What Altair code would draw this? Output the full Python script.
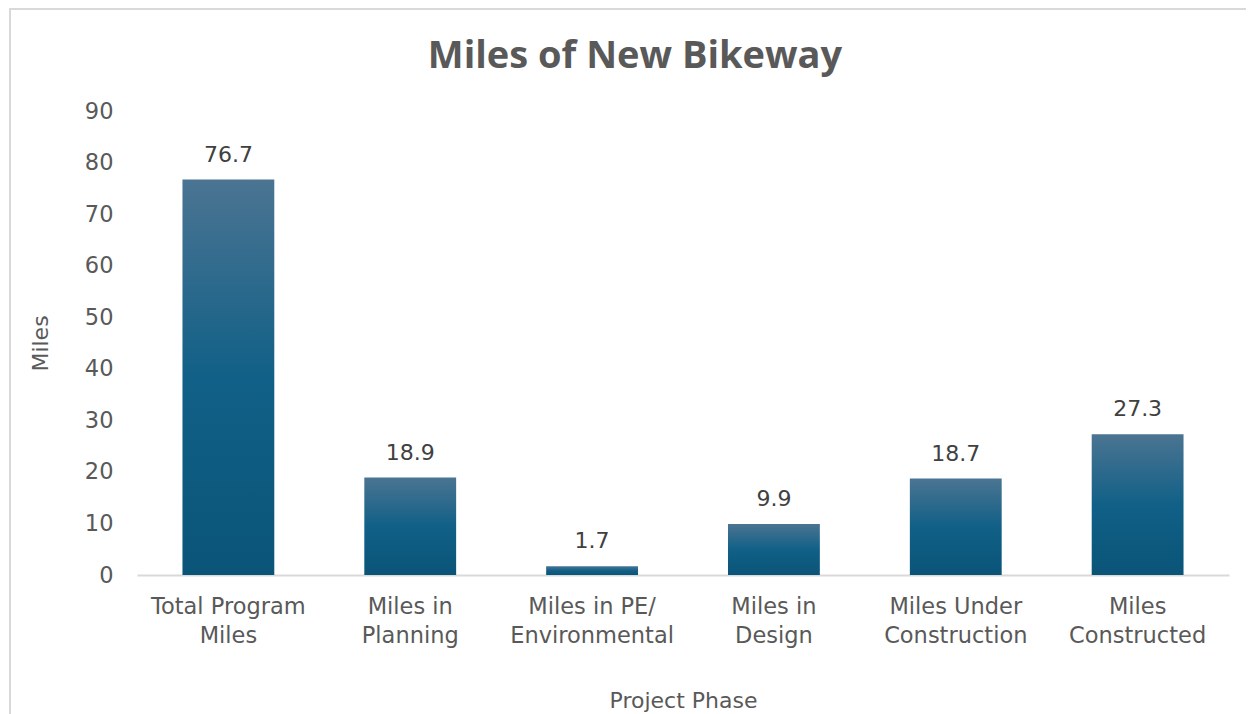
import altair as alt
import pandas as pd

categories = ["Total Program\nMiles", "Miles in\nPlanning", "Miles in PE/\nEnvironmental",
              "Miles in\nDesign", "Miles Under\nConstruction", "Miles\nConstructed"]
miles = [76.7, 18.9, 1.7, 9.9, 18.7, 27.3]
y_ticks = [0, 10, 20, 30, 40, 50, 60, 70, 80, 90]

df = pd.DataFrame({"phase": categories, "miles": miles})

W, H = 1092, 464
FONT = "DejaVu Sans"
GRAY = "#595959"

grad = alt.Gradient(
    gradient="linear", x1=0, y1=0, x2=0, y2=1,
    stops=[alt.GradientStop(offset=0, color="#4b7492"),
           alt.GradientStop(offset=0.5, color="#116087"),
           alt.GradientStop(offset=1, color="#0a5478")],
)

x_enc = alt.X("phase:N", sort=categories, title="Project Phase",
              scale=alt.Scale(paddingInner=0.495, paddingOuter=0.25),
              axis=alt.Axis(labelAngle=0, labelExpr="split(datum.label, '\\n')",
                            labelFontSize=22.5, labelColor=GRAY, labelFont=FONT,
                            labelLineHeight=29, labelPadding=20,
                            domainColor="#d9d9d9", domainWidth=2, ticks=False,
                            titleFontSize=22, titleFont=FONT, titleColor=GRAY,
                            titleFontWeight="normal", titlePadding=44))
y_enc = alt.Y("miles:Q", title="Miles",
              scale=alt.Scale(domain=[0, 90], nice=False),
              axis=alt.Axis(values=y_ticks, grid=False, domain=False, ticks=False,
                            labelFontSize=22.5, labelColor=GRAY, labelFont=FONT,
                            labelPadding=24, titleFontSize=22, titleFont=FONT,
                            titleColor=GRAY, titleFontWeight="normal", titlePadding=32))

base = alt.Chart(df)
bars = base.mark_bar(color=grad).encode(x=x_enc, y=y_enc)
labels = base.mark_text(dy=-25, fontSize=22, font=FONT, color="#404040").encode(
    x=alt.X("phase:N", sort=categories), y="miles:Q", text=alt.Text("miles:Q", format=".1f"))
frame = base.mark_rect(fill=None, stroke="#d9d9d9", strokeWidth=2, clip=False).encode(
    x=alt.value(-127), x2=alt.value(W + 300), y=alt.value(-102), y2=alt.value(H + 300))

chart = alt.layer(frame, bars, labels).properties(
    width=W, height=H,
    title=alt.Title("Miles of New Bikeway", fontSize=38, font="Open Sans", fontWeight="bold",
                    color=GRAY, anchor="middle", frame="group", dx=-48, offset=-68),
    autosize=alt.AutoSizeParams(type="none"),
    padding={"left": 129, "top": 103, "right": 17, "bottom": 139},
).configure_view(stroke=None)

chart.save("out.html", embed_options={"renderer": "svg", "actions": False})
